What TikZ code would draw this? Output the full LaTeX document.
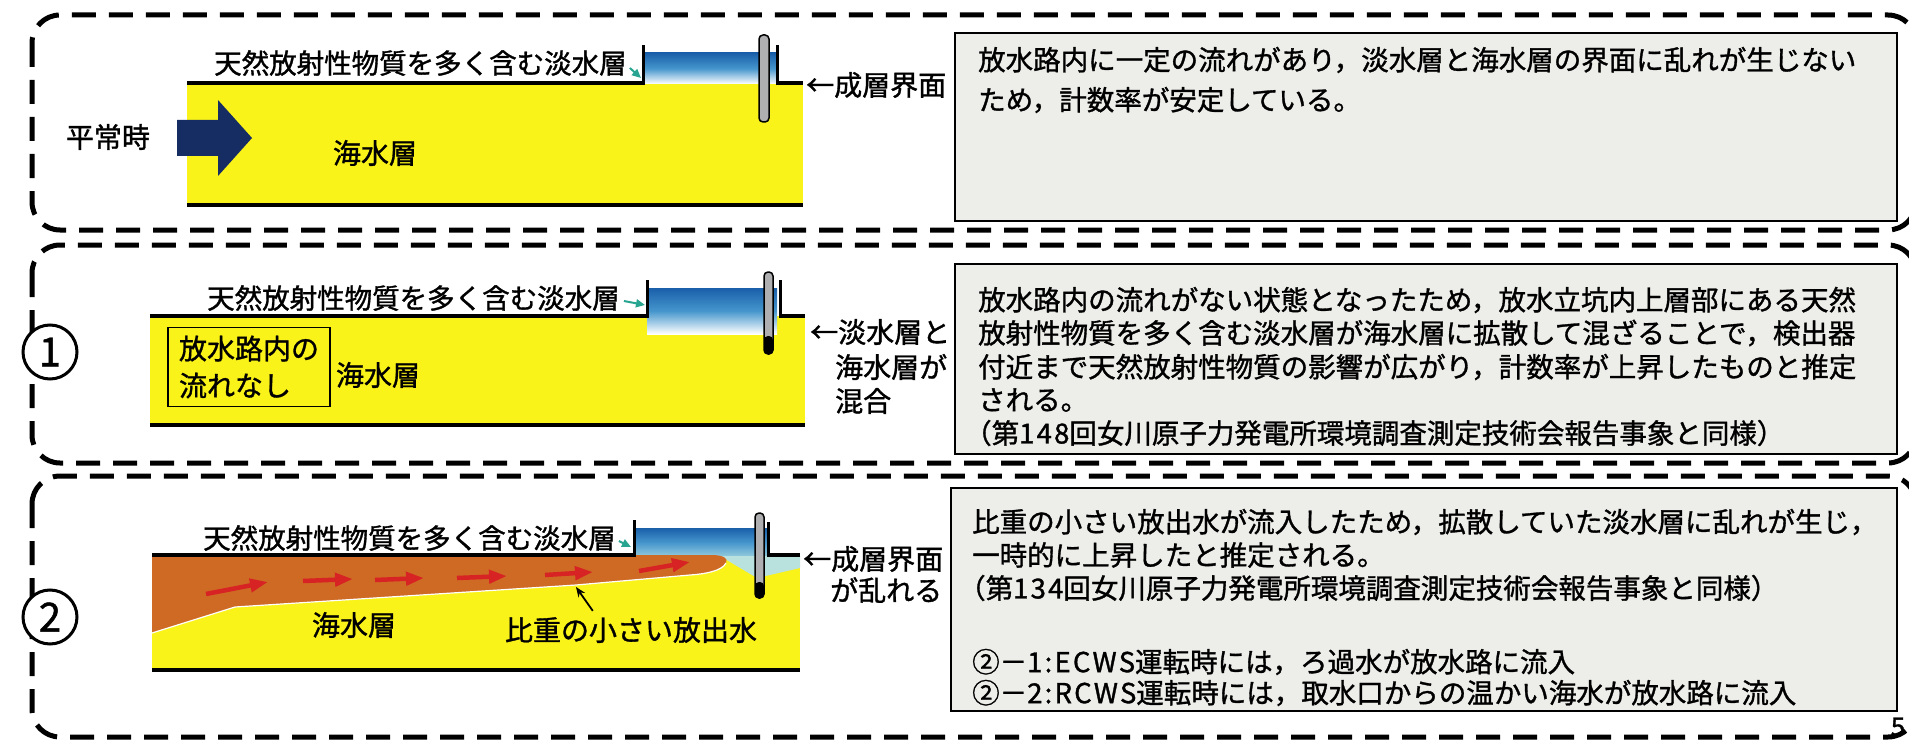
\documentclass[tikz,border=0pt]{standalone}
\usepackage{fontspec}
\setmainfont{Noto Sans CJK JP}[FakeBold=1.2]
\usetikzlibrary{arrows.meta}

% latin runs set a little wider, as in the printed text
\newcommand\spacedlatin[1]{{\addfontfeature{LetterSpace=8}#1}}

\definecolor{seayellow}{RGB}{250,243,25}
\definecolor{plumeorange}{RGB}{206,106,36}
\definecolor{navyarrow}{RGB}{22,45,100}
\definecolor{waterblue}{RGB}{25,95,170}
\definecolor{watermid}{RGB}{70,150,205}
\definecolor{waterlight}{RGB}{150,205,220}
\definecolor{mixcyan}{RGB}{185,225,222}
\definecolor{tealmark}{RGB}{40,165,145}
\definecolor{boxgray}{RGB}{237,237,234}
\definecolor{flowred}{RGB}{215,35,35}
\definecolor{probegray}{RGB}{175,175,178}

\begin{document}
\begin{tikzpicture}[x=1pt,y=-1pt,
  frame/.style={line width=5pt, dash pattern=on 24pt off 13pt, rounded corners=28pt},
  hull/.style={line width=4.5pt},
  wall/.style={line width=3pt},
  notebox/.style={draw, line width=2.2pt, fill=boxgray},
  lbl/.style={font=\fontsize{28}{36}\selectfont, inner sep=0pt},
  freshlbl/.style={anchor=west, inner sep=0pt, font=\fontsize{27.5}{36}\selectfont},
  bodyline/.style={anchor=west, inner sep=0pt, font=\fontsize{27.5}{33}\selectfont},
  marker/.style={circle, draw, line width=3pt, fill=white, minimum size=54pt, inner sep=0pt, font=\fontsize{40}{40}\selectfont},
  tealarrow/.style={-{Triangle[length=9pt,width=8pt]}, line width=2pt, draw=tealmark, fill=tealmark},
  flowarrow/.style={-{Triangle[length=18pt,width=13pt]}, line width=4.5pt, draw=flowred, fill=flowred},
  pointer/.style={-{Stealth[length=10pt,width=8pt]}, line width=1.8pt},
  probe/.style={draw, line width=1.5pt, fill=probegray, rounded corners=4pt}
]
\useasboundingbox (0,0) rectangle (1909,741);
\fill[white] (0,0) rectangle (1909,741);

% ---------- dashed panel frames ----------
\draw[frame] (32,15) rectangle (1916,230);
\draw[frame] (32,245) rectangle (1916,463);
\draw[frame] (32,476) rectangle (1916,737);

% ---------- explanation boxes ----------
\draw[notebox] (955,33) rectangle (1897,221);
\draw[notebox] (955,264) rectangle (1897,454);
\draw[notebox] (951,488) rectangle (1897,711);

\node[bodyline] (n0a) at (978,60) {放水路内に一定の流れがあり，淡水層と海水層の界面に乱れが生じない};
\node[bodyline] (n0b) at (978,100) {ため，計数率が安定している。};

\node[bodyline] (n1a) at (978,300) {放水路内の流れがない状態となったため，放水立坑内上層部にある天然};
\node[bodyline] (n1b) at (978,333) {放射性物質を多く含む淡水層が海水層に拡散して混ざることで，検出器};
\node[bodyline] (n1c) at (978,367) {付近まで天然放射性物質の影響が広がり，計数率が上昇したものと推定};
\node[bodyline] (n1d) at (978,400) {される。};
\node[bodyline] (n1e) at (964,433) {（第\spacedlatin{148}回女川原子力発電所環境調査測定技術会報告事象と同様）};

\node[bodyline] (n2a) at (972,522) {比重の小さい放出水が流入したため，拡散していた淡水層に乱れが生じ，};
\node[bodyline] (n2b) at (972,555) {一時的に上昇したと推定される。};
\node[bodyline] (n2c) at (958,588) {（第\spacedlatin{134}回女川原子力発電所環境調査測定技術会報告事象と同様）};
\node[bodyline] (n2d) at (972,662) {②－\spacedlatin{1:ECWS}運転時には，ろ過水が放水路に流入};
\node[bodyline] (n2e) at (972,693) {②－\spacedlatin{2:RCWS}運転時には，取水口からの温かい海水が放水路に流入};

% ---------- panel 0: normal operation ----------
\fill[seayellow] (187,83) rectangle (803,205);
\shade[top color=waterblue, bottom color=white, middle color=watermid] (643,53) rectangle (777,84);
\draw[hull] (187,83) -- (645,83);
\draw[wall] (643,84) -- (643,45);
\draw[wall] (777,45) -- (777,83);
\draw[hull] (776,83) -- (803,83);
\draw[hull] (187,205) -- (803,205);
\draw[probe] (759,35) rectangle (769,122);
\fill[navyarrow] (177,120) -- (218,120) -- (218,100) -- (252,138) -- (218,176) -- (218,156) -- (177,156) -- cycle;

\node[lbl] (p0state) at (108,137) {平常時};
\node[lbl] (p0sea) at (375,153) {海水層};
\node[freshlbl] (p0fresh) at (214,63) {天然放射性物質を多く含む淡水層};
\coordinate (p0foot) at (641,78);
\draw[tealarrow] ([shift={(3,5)}]p0fresh.east) -- (p0foot);
\node[lbl, anchor=west] (p0strat) at (806,85) {←成層界面};

% ---------- panel 1: no flow ----------
\node[marker] (m1) at (50,352) {1};
\fill[seayellow] (150,316) rectangle (805,425);
\shade[top color=waterblue, bottom color=white, middle color=watermid] (647,288) rectangle (777,334);
\draw[hull] (150,316) -- (649,316);
\draw[wall] (647,317) -- (647,280);
\draw[wall] (780,280) -- (780,316);
\draw[hull] (779,316) -- (805,316);
\draw[hull] (150,425) -- (805,425);
\draw[probe] (764,272) rectangle (773,354);
\fill[black, rounded corners=4pt] (764,336) rectangle (773,354);

\node[draw, line width=1.5pt, minimum width=162pt, minimum height=79pt, inner sep=0pt,
      align=left, font=\fontsize{28}{37}\selectfont] (p1noflow) at (249,367) {放水路内の\\流れなし};
\node[lbl] (p1sea) at (378,375) {海水層};
\node[freshlbl] (p1fresh) at (207,298) {天然放射性物質を多く含む淡水層};
\coordinate (p1foot) at (645,305);
\draw[tealarrow] ([shift={(4,3)}]p1fresh.east) -- (p1foot);
\node[lbl, anchor=west] (p1mixa) at (810,332) {←淡水層と};
\node[lbl, anchor=west] (p1mixb) at (835,367) {海水層が};
\node[lbl, anchor=west] (p1mixc) at (835,401) {混合};

% ---------- panel 2: inflow of light discharge water ----------
\node[marker] (m2) at (50,617) {2};
\fill[seayellow] (152,555) rectangle (800,670);
\shade[top color=waterblue, bottom color=waterlight, middle color=watermid] (634,528) rectangle (768,557);
\fill[mixcyan] (720,556) -- (757,578) -- (800,568) -- (800,556) -- cycle;
\fill[plumeorange] (152,555) -- (712,555) .. controls (722,555) and (729,558) .. (726,563)
   .. controls (722,571) and (705,574) .. (690,575) -- (576,585) -- (235,607) -- (152,633) -- cycle;
\draw[white, line width=1.2pt] (726,563) .. controls (722,571) and (705,574) .. (690,575)
   -- (576,585) -- (235,607) -- (152,633);
\draw[hull] (152,555) -- (636,555);
\draw[wall] (634,556) -- (634,520);
\draw[wall] (768,522) -- (768,555);
\draw[hull] (767,555) -- (800,555);
\draw[hull] (152,670) -- (800,670);
\draw[probe] (755,513) rectangle (764,598);
\fill[black, rounded corners=4pt] (755,582) rectangle (764,598);

\draw[flowarrow] (206,594) -- (268,582);
\draw[flowarrow] (303,581) -- (353,579);
\draw[flowarrow] (375,580) -- (424,578);
\draw[flowarrow] (457,578) -- (507,576);
\draw[flowarrow] (545,575) -- (593,572);
\draw[flowarrow] (639,571) -- (690,562);

\node[freshlbl] (p2fresh) at (203,538) {天然放射性物質を多く含む淡水層};
\coordinate (p2foot) at (631,547);
\draw[tealarrow] ([shift={(3,3)}]p2fresh.east) -- (p2foot);
\node[lbl] (p2sea) at (354,625) {海水層};
\node[lbl] (p2light) at (631,630) {比重の小さい放出水};
\coordinate (p2edge) at (576,587);
\draw[pointer] ([shift={(88,-6)}]p2light.north west) -- (p2edge);
\node[lbl, anchor=west] (p2strata) at (803,559) {←成層界面};
\node[lbl, anchor=west] (p2stratb) at (830,590) {が乱れる};

% page number at the lower right corner
\node[inner sep=0pt, font=\fontsize{26}{26}\selectfont] (pgno) at (1898,727) {5};
\end{tikzpicture}
\end{document}
